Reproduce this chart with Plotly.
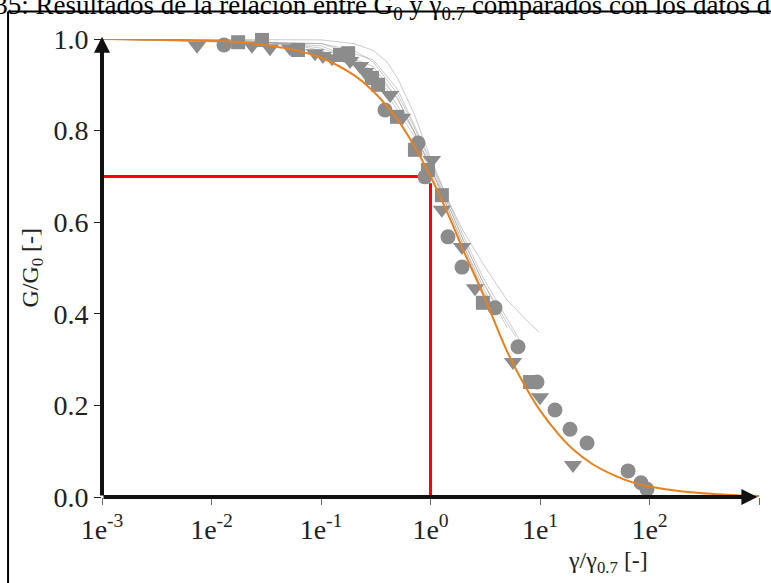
import plotly.graph_objects as go

# ---------------- data ----------------
# Orange model curve
model_x = [0.001, 0.002, 0.005, 0.01, 0.02, 0.05, 0.1, 0.2, 0.3, 0.5, 0.7, 1.0,
           1.5, 2, 3, 5, 7, 10, 15, 20, 30, 50, 70, 100, 200, 500, 1000]
model_y = [1.000, 0.999, 0.998, 0.996, 0.992, 0.979, 0.959, 0.921, 0.886, 0.824,
           0.769, 0.700, 0.609, 0.538, 0.445, 0.318, 0.250, 0.189, 0.135, 0.104,
           0.072, 0.045, 0.032, 0.023, 0.012, 0.005, 0.002]

# Thin grey individual test curves
thin_curves = [
    ([0.001, 0.1, 0.2, 0.3, 0.4, 0.5, 0.7, 1, 1.5, 2, 3, 5, 8, 9.8],
     [1.0, 0.998, 0.99, 0.975, 0.95, 0.915, 0.84, 0.74, 0.64, 0.58, 0.51, 0.43, 0.38, 0.36]),
    ([0.001, 0.1, 0.2, 0.3, 0.5, 0.7, 1, 1.5, 2, 3, 5],
     [1.0, 0.99, 0.975, 0.95, 0.88, 0.81, 0.73, 0.63, 0.56, 0.47, 0.37]),
    ([0.001, 0.05, 0.1, 0.2, 0.3, 0.5, 0.7, 1, 1.5, 2, 3, 4],
     [1.0, 0.99, 0.98, 0.955, 0.93, 0.87, 0.80, 0.72, 0.62, 0.55, 0.46, 0.40]),
    ([0.001, 0.05, 0.1, 0.2, 0.4, 0.7, 1, 1.5, 2, 3, 5, 6],
     [1.0, 0.99, 0.975, 0.945, 0.89, 0.80, 0.72, 0.63, 0.56, 0.47, 0.38, 0.35]),
    ([0.001, 0.03, 0.1, 0.2, 0.4, 0.7, 1, 1.5, 2, 3],
     [1.0, 0.995, 0.97, 0.94, 0.88, 0.79, 0.71, 0.61, 0.54, 0.44]),
    ([0.001, 0.02, 0.1, 0.3, 0.5, 0.7, 1, 2, 3, 4],
     [1.0, 0.997, 0.985, 0.94, 0.87, 0.80, 0.72, 0.55, 0.45, 0.40]),
    ([0.001, 0.1, 0.3, 0.5, 1, 2, 3, 5, 7],
     [1.0, 0.99, 0.955, 0.89, 0.735, 0.57, 0.48, 0.39, 0.33]),
]

# Grey measured points
circle_x = [0.013, 0.384, 0.769, 0.891, 1.445, 1.94, 3.88, 6.30, 9.39, 13.7, 18.8, 26.9, 63.7, 83.6, 94.8]
circle_y = [0.987, 0.845, 0.773, 0.699, 0.568, 0.502, 0.413, 0.328, 0.251, 0.190, 0.148, 0.118, 0.057, 0.031, 0.017]

square_x = [0.0175, 0.0289, 0.0617, 0.149, 0.177, 0.292, 0.332, 0.494, 0.721, 0.948, 1.27, 3.01, 8.11]
square_y = [0.993, 0.998, 0.976, 0.965, 0.969, 0.915, 0.900, 0.830, 0.758, 0.714, 0.659, 0.424, 0.251]

tri_x = [0.00738, 0.0234, 0.0342, 0.0521, 0.0881, 0.104, 0.126, 0.184, 0.227, 0.252, 0.427,
         0.549, 1.03, 1.27, 1.94, 2.55, 5.66, 10.0, 20.0]
tri_y = [0.985, 0.985, 0.980, 0.980, 0.969, 0.963, 0.958, 0.952, 0.941, 0.928, 0.878,
         0.828, 0.736, 0.627, 0.546, 0.456, 0.295, 0.218, 0.070]

# Red reference lines (gamma/gamma0.7 = 1 -> G/G0 = 0.7)
ref_x = [0.001, 0.94, None, 1.0, 1.0]
ref_y = [0.7, 0.7, None, 0.685, 0.0]

x_tickvals = [0.001, 0.01, 0.1, 1, 10, 100, 1000]
x_ticktext = ["1e<sup>-3</sup>", "1e<sup>-2</sup>", "1e<sup>-1</sup>", "1e<sup>0</sup>",
              "1e<sup>1</sup>", "1e<sup>2</sup>", "1e<sup>3</sup>"]
y_tickvals = [0.0, 0.2, 0.4, 0.6, 0.8, 1.0]
y_ticktext = ["0.0", "0.2", "0.4", "0.6", "0.8", "1.0"]

# ---------------- figure ----------------
SERIF = "Liberation Serif"
GREY = "#8c8c8c"

fig = go.Figure()

for cx, cy in thin_curves:
    fig.add_trace(go.Scatter(x=cx, y=cy, mode="lines",
                             line=dict(color="rgba(160,160,160,0.55)", width=1),
                             hoverinfo="skip", showlegend=False, cliponaxis=False))

fig.add_trace(go.Scatter(x=ref_x, y=ref_y, mode="lines",
                         line=dict(color="#ff0000", width=3),
                         showlegend=False, cliponaxis=False))

marker_common = dict(color=GREY, line=dict(width=0))
fig.add_trace(go.Scatter(x=square_x, y=square_y, mode="markers",
                         marker=dict(symbol="square", size=14, **marker_common),
                         showlegend=False, cliponaxis=False))
fig.add_trace(go.Scatter(x=tri_x, y=tri_y, mode="markers",
                         marker=dict(symbol="triangle-down", size=16, **marker_common),
                         showlegend=False, cliponaxis=False))
fig.add_trace(go.Scatter(x=circle_x, y=circle_y, mode="markers",
                         marker=dict(symbol="circle", size=15, **marker_common),
                         showlegend=False, cliponaxis=False))

fig.add_trace(go.Scatter(x=model_x, y=model_y, mode="lines", line_shape="spline",
                         line=dict(color="#e8801f", width=2),
                         showlegend=False, cliponaxis=False))

fig.update_layout(
    xaxis=dict(type="log", range=[-3, 3], tickmode="array",
               tickvals=x_tickvals, ticktext=x_ticktext,
               ticks="outside", ticklen=7, tickwidth=1, tickcolor="#666666",
               showgrid=False, zeroline=False, showline=False,
               tickfont=dict(family=SERIF, size=28, color="#222222")),
    yaxis=dict(range=[0, 1.0], tickmode="array",
               tickvals=y_tickvals, ticktext=y_ticktext,
               ticks="outside", ticklen=7, tickwidth=1, tickcolor="#222222",
               showgrid=False, zeroline=False, showline=False,
               tickfont=dict(family=SERIF, size=28, color="#222222")),
)

# Axis lines with arrowheads
fig.add_annotation(x=2.985, y=0, ax=-3, ay=0, xref="x", yref="y", axref="x", ayref="y",
                   showarrow=True, arrowhead=2, arrowsize=0.8, arrowwidth=4,
                   arrowcolor="#111111", text="")
fig.add_annotation(x=-3, y=1.005, ax=-3, ay=0, xref="x", yref="y", axref="x", ayref="y",
                   showarrow=True, arrowhead=2, arrowsize=0.8, arrowwidth=4,
                   arrowcolor="#111111", text="")

# Axis titles
fig.add_annotation(x=-0.133, y=0.50, xref="paper", yref="paper", showarrow=False,
                   text="G/G<sub>0</sub> [-]", textangle=-90,
                   font=dict(family=SERIF, size=24, color="#222222"))
fig.add_annotation(x=0.834, y=-0.178, xref="paper", yref="paper", showarrow=False,
                   text="γ/γ<sub>0.7</sub> [-]",
                   font=dict(family=SERIF, size=24, color="#222222"))

# Caption (partially cut, as in the document screenshot)
fig.add_annotation(x=-0.1986, y=1.070, xref="paper", yref="paper", showarrow=False,
                   xanchor="left", yanchor="middle",
                   text="3.35: Resultados de la relación entre G<sub>0</sub> y γ<sub>0.7</sub> comparados con los datos de la",
                   font=dict(family=SERIF, size=27, color="#000000"))

# Document frame
fig.add_shape(type="line", xref="paper", yref="paper", x0=-0.143, x1=1.03, y0=1.06, y1=1.06,
              line=dict(color="#000000", width=2))
fig.add_shape(type="line", xref="paper", yref="paper", x0=-0.143, x1=-0.143, y0=1.06, y1=-0.2,
              line=dict(color="#000000", width=2))

fig.update_layout(width=771, height=583,
                  margin=dict(l=102, r=12, t=39, b=86),
                  font=dict(family=SERIF, size=24, color="#222222"),
                  paper_bgcolor="white", plot_bgcolor="white",
                  showlegend=False)

fig.write_html("out.html")
